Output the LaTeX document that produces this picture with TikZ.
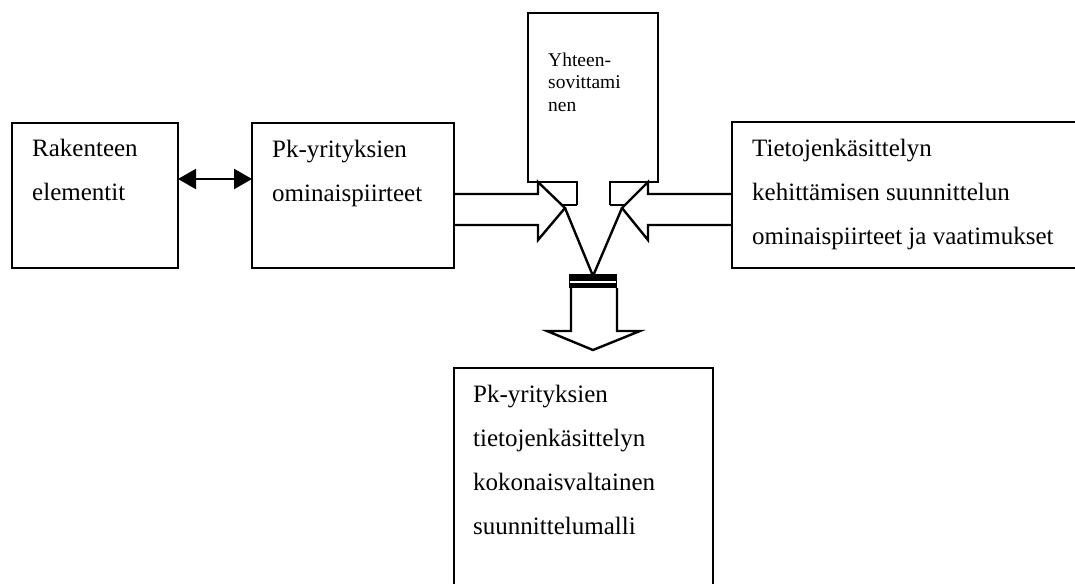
\documentclass[tikz,border=0pt]{standalone}
\usepackage{fontspec}
\setmainfont{Liberation Serif}
\usetikzlibrary{arrows.meta}
\begin{document}
\begin{tikzpicture}[x=1pt,y=-1pt,line join=miter,
  frame/.style={draw,line width=2.6pt,anchor=north west,inner sep=0pt,outer sep=0pt},
  % texts are placed by the baseline of their last line
  bigtext/.style={anchor=base west,inner sep=0pt,align=left,font=\fontsize{25}{44}\selectfont},
  smalltext/.style={anchor=base west,inner sep=0pt,align=left,font=\fontsize{19.5}{22}\selectfont},
  outline/.style={line width=2.4pt,line join=miter},
  twoway/.style={line width=2.4pt,{Triangle[length=18pt,width=20pt]}-{Triangle[length=18pt,width=20pt]}}]
\useasboundingbox (0,0) rectangle (1075,583);
\clip (0,0) rectangle (1075,583);

% boxes
\node[frame,minimum width=166pt,minimum height=145pt] (lbox) at (12,123) {};
\node[frame,minimum width=202pt,minimum height=145pt] (pk) at (252,123) {};
\node[frame,minimum width=360pt,minimum height=146pt] (req) at (732,122) {};
\node[frame,minimum width=259pt,minimum height=240pt] (model) at (454,368) {};

% texts
\node[bigtext] (t1) at (32,200) {Rakenteen\\elementit};
\node[bigtext] (t2) at (272,201) {Pk-yrityksien\\ominaispiirteet};
\node[bigtext] (t3) at (752,244) {Tietojenkäsittelyn\\kehittämisen suunnittelun\\ominaispiirteet ja vaatimukset};
\node[bigtext] (t4) at (473,534) {Pk-yrityksien\\tietojenkäsittelyn\\kokonaisvaltainen\\suunnittelumalli};
\node[smalltext] (t5) at (548,111) {Yhteen-\\sovittami\\nen};

% two-way arrow between the left boxes
\draw[twoway] (lbox.east |- 0,179) -- (pk.west |- 0,179);

% coordination block with its two tabs
\coordinate (ltip) at (565,208);
\coordinate (rtip) at (622,208);
\coordinate (join) at (593,276);
\draw[outline] (577,205) -- (577,182) -- (528,182) -- (528,13) -- (658,13)
  -- (658,182) -- (610,182) -- (610,205);
\draw[outline] (577,205) -- (562,205);
\draw[outline] (610,205) -- (625,205);

% block arrows into the coordination block
\draw[outline] (pk.east |- 0,194) -- (538,194) -- (538,182) -- (ltip)
  -- (538,240) -- (538,225) -- (pk.east |- 0,225);
\draw[outline] (req.west |- 0,194) -- (648,194) -- (648,182) -- (rtip)
  -- (648,240) -- (648,225) -- (req.west |- 0,225);

% converging lines
\draw[outline] (ltip) -- (join) -- (rtip);

% bar and downward block arrow
\fill (569,274) rectangle (617,288);
\draw[white,line width=1.2pt] (570,282) -- (616,282);
\draw[outline] (571,288) -- (571,331) -- (547,331) -- (593,350) -- (640,331)
  -- (617,331) -- (617,288);
\end{tikzpicture}
\end{document}
